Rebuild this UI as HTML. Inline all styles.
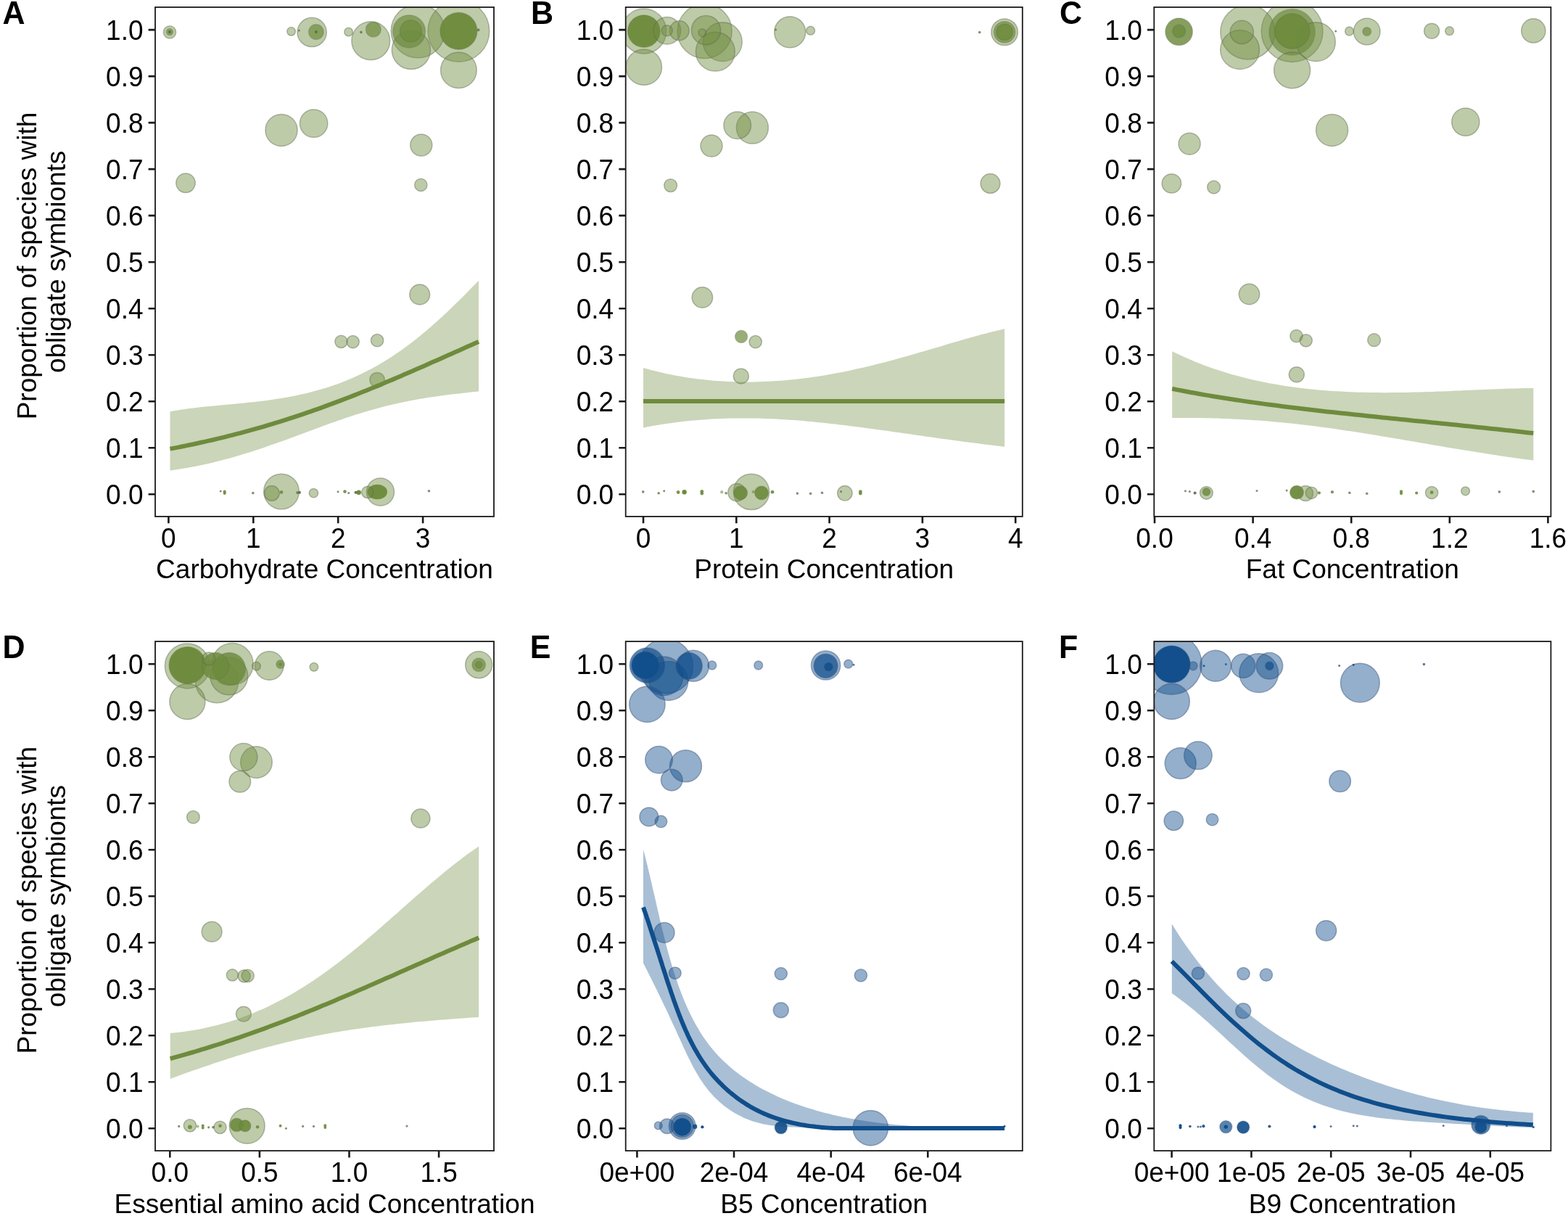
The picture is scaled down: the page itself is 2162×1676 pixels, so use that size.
<!DOCTYPE html>
<html lang="en"><head><meta charset="utf-8"><title>Figure</title>
<style>html,body{margin:0;padding:0;background:#fff}svg{display:block}text{font-family:"Liberation Sans",Arial,Helvetica,sans-serif;fill:#000}.t{font-size:37px}.l{font-size:43px;font-weight:bold}.g circle{fill:#6E8B3D;stroke:#5f6b50;stroke-width:1.5}.b circle{fill:#104E8B;stroke:#3a4f78;stroke-width:1.5}.fr{fill:none;stroke:#1a1a1a;stroke-width:1.8}.tk{stroke:#1a1a1a;stroke-width:2.6;fill:none}circle.d,ellipse.d,circle.k{stroke:none}.g circle.k{fill:#5a6b42}.b circle.k{fill:#2a4a78}.g ellipse{fill:#6E8B3D}.b ellipse{fill:#104E8B}</style></head>
<body>
<svg width="2162" height="1676" viewBox="0 0 2162 1676">
<rect width="2162" height="1676" fill="#fff"/>
<defs><clipPath id="cA"><rect x="214" y="9.9" width="467" height="702"/></clipPath><clipPath id="cB"><rect x="862.7" y="9.9" width="547.1" height="702"/></clipPath><clipPath id="cC"><rect x="1591.3" y="9.9" width="547.1" height="702"/></clipPath><clipPath id="cD"><rect x="214" y="884.1" width="467" height="702"/></clipPath><clipPath id="cE"><rect x="862.7" y="884.1" width="547.1" height="702"/></clipPath><clipPath id="cF"><rect x="1591.3" y="884.1" width="547.1" height="702"/></clipPath></defs>
<g id="panelA">
<g class="g" clip-path="url(#cA)"><circle cx="632.4" cy="42.8" r="42.4" fill-opacity="0.45" stroke-opacity="0.45"/><circle cx="576.2" cy="42.8" r="37" fill-opacity="0.45" stroke-opacity="0.45"/><circle cx="566.9" cy="68.8" r="26.6" fill-opacity="0.45" stroke-opacity="0.45"/><circle cx="511.3" cy="56.2" r="26.4" fill-opacity="0.45" stroke-opacity="0.45"/><circle cx="632.4" cy="42.8" r="25.5" fill-opacity="0.97" stroke-opacity="0.28"/><circle cx="632.4" cy="96.8" r="24.8" fill-opacity="0.45" stroke-opacity="0.45"/><circle cx="388" cy="677.5" r="24.3" fill-opacity="0.45" stroke-opacity="0.45"/><circle cx="564.1" cy="43.3" r="22.5" fill-opacity="0.70" stroke-opacity="0.28"/><circle cx="388" cy="179.4" r="22" fill-opacity="0.45" stroke-opacity="0.45"/><circle cx="430.1" cy="44.4" r="20.1" fill-opacity="0.45" stroke-opacity="0.45"/><circle cx="432.6" cy="170.1" r="19.2" fill-opacity="0.45" stroke-opacity="0.45"/><circle cx="524.5" cy="678" r="19" fill-opacity="0.45" stroke-opacity="0.45"/><circle cx="566.4" cy="42.8" r="15" fill-opacity="0.70" stroke-opacity="0.28"/><circle cx="580.8" cy="200" r="15" fill-opacity="0.45" stroke-opacity="0.45"/><circle cx="578.7" cy="406" r="13.9" fill-opacity="0.45" stroke-opacity="0.45"/><ellipse class="d" cx="520.2" cy="678" rx="13.8" ry="10.2" fill-opacity="0.97"/><circle cx="256" cy="252.3" r="13.2" fill-opacity="0.45" stroke-opacity="0.45"/><circle cx="435.9" cy="44" r="10.4" fill-opacity="0.70" stroke-opacity="0.28"/><circle cx="514.8" cy="40.7" r="10.4" fill-opacity="0.70" stroke-opacity="0.28"/><circle cx="374.8" cy="679.8" r="10.4" fill-opacity="0.45" stroke-opacity="0.45"/><circle cx="520.1" cy="523.6" r="10.2" fill-opacity="0.45" stroke-opacity="0.45"/><circle cx="234" cy="44.4" r="8.6" fill-opacity="0.45" stroke-opacity="0.45"/><circle cx="580.3" cy="254.9" r="8.6" fill-opacity="0.45" stroke-opacity="0.45"/><circle cx="470.4" cy="470.8" r="8.6" fill-opacity="0.45" stroke-opacity="0.45"/><circle cx="486.6" cy="471.2" r="8.6" fill-opacity="0.45" stroke-opacity="0.45"/><circle cx="520.1" cy="469.2" r="8.6" fill-opacity="0.45" stroke-opacity="0.45"/><circle cx="506.7" cy="678.4" r="8.1" fill-opacity="0.45" stroke-opacity="0.45"/><circle cx="432.4" cy="679.6" r="6.2" fill-opacity="0.45" stroke-opacity="0.45"/><circle cx="401.6" cy="43.3" r="5.8" fill-opacity="0.45" stroke-opacity="0.45"/><circle cx="480.6" cy="44" r="5.8" fill-opacity="0.45" stroke-opacity="0.45"/><circle cx="234" cy="44" r="4.6" fill-opacity="0.70" stroke-opacity="0.28"/><circle class="d" cx="494.7" cy="678.7" r="3.2" fill-opacity="1.00"/><circle class="d" cx="388" cy="678.4" r="2.3" fill-opacity="0.91"/><circle class="d" cx="475.5" cy="677.5" r="2.3" fill-opacity="0.91"/><circle class="d" cx="309.7" cy="677.7" r="2.1" fill-opacity="0.91"/><circle class="d" cx="309.7" cy="679.8" r="2.1" fill-opacity="0.91"/><circle class="k" cx="234" cy="44" r="2" fill-opacity="0.90"/><circle class="k" cx="435.9" cy="44" r="2" fill-opacity="0.90"/><circle class="k" cx="659.5" cy="41.2" r="2" fill-opacity="0.75"/><circle class="k" cx="410.2" cy="679.1" r="2" fill-opacity="0.75"/><circle class="k" cx="413" cy="678.7" r="2" fill-opacity="0.90"/><circle class="k" cx="490.5" cy="678.7" r="2" fill-opacity="0.90"/><circle class="k" cx="497.9" cy="44.4" r="1.8" fill-opacity="0.75"/><circle class="k" cx="348.8" cy="679.6" r="1.8" fill-opacity="0.75"/><circle class="k" cx="591.4" cy="676.8" r="1.8" fill-opacity="0.75"/><circle class="k" cx="466" cy="677.7" r="1.5" fill-opacity="0.75"/><circle class="k" cx="480.8" cy="679.6" r="1.5" fill-opacity="0.75"/><circle class="k" cx="412.3" cy="41.9" r="1.5" fill-opacity="0.75"/><circle class="k" cx="304.2" cy="677" r="1.5" fill-opacity="0.75"/></g>
<path d="M234.5 567.2 L239.9 566.2 L245.3 565.4 L250.7 564.5 L256 563.8 L261.4 563 L266.8 562.4 L272.2 561.7 L277.6 561.1 L283 560.5 L288.4 560 L293.7 559.5 L299.1 558.9 L304.5 558.4 L309.9 557.9 L315.3 557.4 L320.7 556.9 L326.1 556.4 L331.4 555.9 L336.8 555.4 L342.2 554.8 L347.6 554.3 L353 553.7 L358.4 553 L363.8 552.4 L369.2 551.7 L374.5 550.9 L379.9 550.1 L385.3 549.3 L390.7 548.4 L396.1 547.5 L401.5 546.5 L406.9 545.4 L412.2 544.3 L417.6 543.1 L423 541.9 L428.4 540.5 L433.8 539.1 L439.2 537.6 L444.6 536.1 L449.9 534.4 L455.3 532.7 L460.7 530.8 L466.1 528.9 L471.5 526.9 L476.9 524.8 L482.3 522.5 L487.6 520.2 L493 517.8 L498.4 515.2 L503.8 512.6 L509.2 509.8 L514.6 506.9 L520 503.9 L525.3 500.8 L530.7 497.5 L536.1 494.2 L541.5 490.7 L546.9 487.1 L552.3 483.4 L557.7 479.5 L563.1 475.6 L568.4 471.5 L573.8 467.3 L579.2 462.9 L584.6 458.5 L590 454 L595.4 449.3 L600.8 444.5 L606.1 439.7 L611.5 434.7 L616.9 429.7 L622.3 424.5 L627.7 419.3 L633.1 414 L638.5 408.7 L643.8 403.3 L649.2 397.8 L654.6 392.3 L660 386.8 L660 539.4 L654.6 540 L649.2 540.6 L643.8 541.2 L638.5 541.8 L633.1 542.4 L627.7 543 L622.3 543.6 L616.9 544.3 L611.5 545 L606.1 545.7 L600.8 546.5 L595.4 547.2 L590 548.1 L584.6 548.9 L579.2 549.8 L573.8 550.8 L568.4 551.8 L563.1 552.8 L557.7 553.9 L552.3 555 L546.9 556.2 L541.5 557.5 L536.1 558.7 L530.7 560.1 L525.3 561.5 L520 562.9 L514.6 564.4 L509.2 566 L503.8 567.5 L498.4 569.2 L493 570.8 L487.6 572.6 L482.3 574.3 L476.9 576.1 L471.5 577.9 L466.1 579.8 L460.7 581.7 L455.3 583.6 L449.9 585.5 L444.6 587.5 L439.2 589.5 L433.8 591.4 L428.4 593.4 L423 595.4 L417.6 597.4 L412.2 599.4 L406.9 601.4 L401.5 603.4 L396.1 605.4 L390.7 607.4 L385.3 609.3 L379.9 611.2 L374.5 613.1 L369.2 615 L363.8 616.9 L358.4 618.7 L353 620.5 L347.6 622.2 L342.2 623.9 L336.8 625.6 L331.4 627.2 L326.1 628.8 L320.7 630.4 L315.3 631.9 L309.9 633.3 L304.5 634.7 L299.1 636.1 L293.7 637.4 L288.4 638.7 L283 639.9 L277.6 641 L272.2 642.2 L266.8 643.2 L261.4 644.2 L256 645.2 L250.7 646.1 L245.3 647 L239.9 647.8 L234.5 648.6Z" fill="#6E8B3D" fill-opacity="0.36"/>
<path d="M234.5 618.6 L239.9 617.6 L245.3 616.6 L250.7 615.5 L256 614.4 L261.4 613.3 L266.8 612.2 L272.2 611 L277.6 609.8 L283 608.6 L288.4 607.4 L293.7 606.2 L299.1 604.9 L304.5 603.6 L309.9 602.3 L315.3 600.9 L320.7 599.6 L326.1 598.2 L331.4 596.8 L336.8 595.3 L342.2 593.9 L347.6 592.4 L353 590.9 L358.4 589.3 L363.8 587.8 L369.2 586.2 L374.5 584.6 L379.9 582.9 L385.3 581.3 L390.7 579.6 L396.1 577.9 L401.5 576.1 L406.9 574.4 L412.2 572.6 L417.6 570.8 L423 568.9 L428.4 567.1 L433.8 565.2 L439.2 563.3 L444.6 561.4 L449.9 559.4 L455.3 557.4 L460.7 555.4 L466.1 553.4 L471.5 551.4 L476.9 549.3 L482.3 547.2 L487.6 545.1 L493 543 L498.4 540.8 L503.8 538.7 L509.2 536.5 L514.6 534.3 L520 532.1 L525.3 529.9 L530.7 527.6 L536.1 525.3 L541.5 523.1 L546.9 520.8 L552.3 518.5 L557.7 516.1 L563.1 513.8 L568.4 511.5 L573.8 509.1 L579.2 506.8 L584.6 504.4 L590 502 L595.4 499.6 L600.8 497.3 L606.1 494.9 L611.5 492.5 L616.9 490.1 L622.3 487.7 L627.7 485.3 L633.1 482.9 L638.5 480.5 L643.8 478.1 L649.2 475.7 L654.6 473.3 L660 470.9" fill="none" stroke="#6E8B3D" stroke-width="6.0" stroke-linejoin="round"/>
<rect class="fr" x="214" y="9.9" width="467" height="702"/>
<path class="tk" d="M204.6 681.2H214M204.6 617.2H214M204.6 553.2H214M204.6 489.2H214M204.6 425.2H214M204.6 361.2H214M204.6 297.1H214M204.6 233.1H214M204.6 169.1H214M204.6 105.1H214M204.6 41.1H214M232.4 711.9V721.3M349.3 711.9V721.3M466.2 711.9V721.3M583.1 711.9V721.3"/>
<g class="t" text-anchor="end"><text transform="translate(197.5 694.6) scale(1 1.043)">0.0</text><text transform="translate(197.5 630.6) scale(1 1.043)">0.1</text><text transform="translate(197.5 566.6) scale(1 1.043)">0.2</text><text transform="translate(197.5 502.6) scale(1 1.043)">0.3</text><text transform="translate(197.5 438.6) scale(1 1.043)">0.4</text><text transform="translate(197.5 374.6) scale(1 1.043)">0.5</text><text transform="translate(197.5 310.5) scale(1 1.043)">0.6</text><text transform="translate(197.5 246.5) scale(1 1.043)">0.7</text><text transform="translate(197.5 182.5) scale(1 1.043)">0.8</text><text transform="translate(197.5 118.5) scale(1 1.043)">0.9</text><text transform="translate(197.5 54.5) scale(1 1.043)">1.0</text></g>
<g class="t" text-anchor="middle"><text transform="translate(232.4 755) scale(1 1.043)">0</text><text transform="translate(349.3 755) scale(1 1.043)">1</text><text transform="translate(466.2 755) scale(1 1.043)">2</text><text transform="translate(583.1 755) scale(1 1.043)">3</text><text x="447.5" y="797.3">Carbohydrate Concentration</text><text transform="translate(50.4 366.5) rotate(-90)">Proportion of species with</text><text transform="translate(89.7 360.9) rotate(-90)">obligate symbionts</text></g>
<text class="l" transform="translate(3.6 32.5) scale(1 1.043)">A</text>
</g>
<g id="panelB">
<g class="g" clip-path="url(#cB)"><circle cx="971.6" cy="43" r="37.6" fill-opacity="0.45" stroke-opacity="0.45"/><circle cx="887.8" cy="43" r="30.9" fill-opacity="0.45" stroke-opacity="0.45"/><circle cx="996.3" cy="57.7" r="26.9" fill-opacity="0.45" stroke-opacity="0.45"/><circle cx="986.3" cy="71.2" r="26.9" fill-opacity="0.45" stroke-opacity="0.45"/><circle cx="887.8" cy="92.6" r="24.7" fill-opacity="0.45" stroke-opacity="0.45"/><circle cx="1036" cy="677.9" r="24.7" fill-opacity="0.45" stroke-opacity="0.45"/><circle cx="887.8" cy="43" r="22.3" fill-opacity="0.97" stroke-opacity="0.28"/><circle cx="1037.4" cy="176.1" r="22" fill-opacity="0.45" stroke-opacity="0.45"/><circle cx="1089.2" cy="44.3" r="21.5" fill-opacity="0.45" stroke-opacity="0.45"/><circle cx="973.5" cy="41.6" r="20.1" fill-opacity="0.45" stroke-opacity="0.45"/><circle cx="919.8" cy="42.2" r="18.8" fill-opacity="0.45" stroke-opacity="0.45"/><circle cx="1016.7" cy="172.7" r="18.8" fill-opacity="0.45" stroke-opacity="0.45"/><circle cx="1385.1" cy="44.3" r="18.3" fill-opacity="0.45" stroke-opacity="0.45"/><circle cx="981" cy="201.1" r="15" fill-opacity="0.45" stroke-opacity="0.45"/><circle cx="1385.1" cy="44.3" r="14.8" fill-opacity="0.70" stroke-opacity="0.28"/><circle cx="968.4" cy="410" r="14.2" fill-opacity="0.45" stroke-opacity="0.45"/><circle cx="936.7" cy="42.2" r="13.4" fill-opacity="0.45" stroke-opacity="0.45"/><circle cx="1365.5" cy="252.9" r="13.4" fill-opacity="0.45" stroke-opacity="0.45"/><circle cx="1015.9" cy="678.7" r="12.1" fill-opacity="0.45" stroke-opacity="0.45"/><circle cx="1385.1" cy="44.3" r="11.3" fill-opacity="0.83" stroke-opacity="0.28"/><circle cx="1021.8" cy="518.4" r="10.5" fill-opacity="0.45" stroke-opacity="0.45"/><circle cx="1164.9" cy="679.8" r="10.2" fill-opacity="0.45" stroke-opacity="0.45"/><circle cx="1021.2" cy="679.3" r="9.4" fill-opacity="0.91" stroke-opacity="0.28"/><circle cx="1050" cy="679.3" r="9.4" fill-opacity="0.91" stroke-opacity="0.28"/><circle cx="924.6" cy="255.6" r="8.9" fill-opacity="0.45" stroke-opacity="0.45"/><circle cx="1022.1" cy="463.9" r="8.6" fill-opacity="0.70" stroke-opacity="0.28"/><circle cx="1041.7" cy="471.2" r="8.6" fill-opacity="0.45" stroke-opacity="0.45"/><circle cx="919.8" cy="42.2" r="7.5" fill-opacity="0.45" stroke-opacity="0.45"/><circle cx="1117.6" cy="42.2" r="5.9" fill-opacity="0.45" stroke-opacity="0.45"/><circle cx="968.4" cy="45.1" r="5.4" fill-opacity="0.45" stroke-opacity="0.45"/><circle class="d" cx="943.6" cy="678.2" r="3.2" fill-opacity="1.00"/><circle class="d" cx="935.1" cy="678.5" r="2.4" fill-opacity="0.91"/><circle class="d" cx="967.8" cy="677.4" r="2.4" fill-opacity="0.91"/><circle class="d" cx="967.8" cy="680.1" r="2.4" fill-opacity="0.91"/><circle class="d" cx="1065" cy="678.2" r="2.4" fill-opacity="0.91"/><circle class="d" cx="1186.4" cy="677.6" r="2.4" fill-opacity="0.91"/><circle class="d" cx="1186.4" cy="680.1" r="2.4" fill-opacity="0.91"/><circle class="d" cx="995.2" cy="678.2" r="2.1" fill-opacity="0.58"/><circle class="d" cx="1038.7" cy="677.9" r="2.1" fill-opacity="0.58"/><circle class="k" cx="1350.7" cy="44.6" r="1.8" fill-opacity="0.75"/><circle class="k" cx="886.7" cy="677.9" r="1.8" fill-opacity="0.75"/><circle class="k" cx="908.2" cy="679.8" r="1.8" fill-opacity="0.75"/><circle class="k" cx="1001.1" cy="679.8" r="1.8" fill-opacity="0.75"/><circle class="k" cx="1099.4" cy="680.1" r="1.8" fill-opacity="0.75"/><circle class="k" cx="1117.6" cy="680.3" r="1.8" fill-opacity="0.75"/><circle class="k" cx="1133.5" cy="679.3" r="1.8" fill-opacity="0.75"/><circle class="k" cx="915.7" cy="676.8" r="1.5" fill-opacity="0.75"/><circle class="k" cx="1159.5" cy="677.4" r="1.5" fill-opacity="0.75"/><circle class="k" cx="1069.6" cy="41.1" r="1.5" fill-opacity="0.75"/></g>
<path d="M887 507 L893.3 508.8 L899.6 510.5 L905.9 512 L912.2 513.5 L918.5 514.9 L924.8 516.2 L931.1 517.5 L937.4 518.6 L943.7 519.7 L950.1 520.7 L956.4 521.6 L962.7 522.4 L969 523.1 L975.3 523.8 L981.6 524.4 L987.9 524.9 L994.2 525.3 L1000.5 525.7 L1006.8 526 L1013.1 526.2 L1019.4 526.4 L1025.7 526.5 L1032 526.5 L1038.3 526.4 L1044.6 526.3 L1050.9 526.1 L1057.2 525.8 L1063.5 525.5 L1069.8 525.1 L1076.2 524.7 L1082.5 524.2 L1088.8 523.6 L1095.1 523 L1101.4 522.3 L1107.7 521.5 L1114 520.7 L1120.3 519.8 L1126.6 518.9 L1132.9 517.9 L1139.2 516.9 L1145.5 515.8 L1151.8 514.6 L1158.1 513.4 L1164.4 512.2 L1170.7 510.9 L1177 509.5 L1183.3 508.1 L1189.6 506.7 L1195.9 505.2 L1202.3 503.7 L1208.6 502.1 L1214.9 500.5 L1221.2 498.9 L1227.5 497.2 L1233.8 495.5 L1240.1 493.8 L1246.4 492 L1252.7 490.2 L1259 488.4 L1265.3 486.6 L1271.6 484.8 L1277.9 482.9 L1284.2 481.1 L1290.5 479.2 L1296.8 477.4 L1303.1 475.5 L1309.4 473.6 L1315.7 471.8 L1322 469.9 L1328.4 468.1 L1334.7 466.3 L1341 464.5 L1347.3 462.8 L1353.6 461.1 L1359.9 459.4 L1366.2 457.8 L1372.5 456.2 L1378.8 454.7 L1385.1 453.2 L1385.1 615.7 L1378.8 615 L1372.5 614.3 L1366.2 613.5 L1359.9 612.7 L1353.6 611.9 L1347.3 611.1 L1341 610.3 L1334.7 609.5 L1328.4 608.7 L1322 607.8 L1315.7 607 L1309.4 606.1 L1303.1 605.2 L1296.8 604.4 L1290.5 603.5 L1284.2 602.6 L1277.9 601.7 L1271.6 600.8 L1265.3 599.9 L1259 599 L1252.7 598.1 L1246.4 597.2 L1240.1 596.3 L1233.8 595.4 L1227.5 594.5 L1221.2 593.6 L1214.9 592.8 L1208.6 591.9 L1202.3 591 L1195.9 590.2 L1189.6 589.3 L1183.3 588.5 L1177 587.7 L1170.7 586.9 L1164.4 586.1 L1158.1 585.4 L1151.8 584.6 L1145.5 583.9 L1139.2 583.2 L1132.9 582.5 L1126.6 581.9 L1120.3 581.3 L1114 580.7 L1107.7 580.1 L1101.4 579.6 L1095.1 579.1 L1088.8 578.7 L1082.5 578.3 L1076.2 577.9 L1069.8 577.5 L1063.5 577.2 L1057.2 577 L1050.9 576.8 L1044.6 576.6 L1038.3 576.5 L1032 576.4 L1025.7 576.4 L1019.4 576.4 L1013.1 576.5 L1006.8 576.6 L1000.5 576.8 L994.2 577 L987.9 577.3 L981.6 577.6 L975.3 578 L969 578.5 L962.7 579 L956.4 579.5 L950.1 580.1 L943.7 580.8 L937.4 581.6 L931.1 582.3 L924.8 583.2 L918.5 584.1 L912.2 585 L905.9 586 L899.6 587.1 L893.3 588.2 L887 589.4Z" fill="#6E8B3D" fill-opacity="0.36"/>
<path d="M887 553.1 L893.3 553.1 L899.6 553.1 L905.9 553.1 L912.2 553.1 L918.5 553.1 L924.8 553.1 L931.1 553.1 L937.4 553.1 L943.7 553.1 L950.1 553.1 L956.4 553.1 L962.7 553.1 L969 553.1 L975.3 553.1 L981.6 553.1 L987.9 553.1 L994.2 553.1 L1000.5 553.1 L1006.8 553.1 L1013.1 553.1 L1019.4 553.1 L1025.7 553.1 L1032 553.1 L1038.3 553.1 L1044.6 553.1 L1050.9 553.1 L1057.2 553.1 L1063.5 553.1 L1069.8 553.1 L1076.2 553.1 L1082.5 553.1 L1088.8 553.1 L1095.1 553.1 L1101.4 553.1 L1107.7 553.1 L1114 553.1 L1120.3 553.1 L1126.6 553.1 L1132.9 553.1 L1139.2 553.1 L1145.5 553.1 L1151.8 553.1 L1158.1 553.1 L1164.4 553.1 L1170.7 553.1 L1177 553.1 L1183.3 553.1 L1189.6 553.1 L1195.9 553.1 L1202.3 553.1 L1208.6 553.1 L1214.9 553.1 L1221.2 553.1 L1227.5 553.1 L1233.8 553.1 L1240.1 553.1 L1246.4 553.1 L1252.7 553.1 L1259 553.1 L1265.3 553.1 L1271.6 553.1 L1277.9 553.1 L1284.2 553.1 L1290.5 553.1 L1296.8 553.1 L1303.1 553.1 L1309.4 553.1 L1315.7 553.1 L1322 553.1 L1328.4 553.1 L1334.7 553.1 L1341 553.1 L1347.3 553.1 L1353.6 553.1 L1359.9 553.1 L1366.2 553.1 L1372.5 553.1 L1378.8 553.1 L1385.1 553.1" fill="none" stroke="#6E8B3D" stroke-width="6.0" stroke-linejoin="round"/>
<rect class="fr" x="862.7" y="9.9" width="547.1" height="702"/>
<path class="tk" d="M853.3 681.2H862.7M853.3 617.2H862.7M853.3 553.2H862.7M853.3 489.2H862.7M853.3 425.2H862.7M853.3 361.2H862.7M853.3 297.1H862.7M853.3 233.1H862.7M853.3 169.1H862.7M853.3 105.1H862.7M853.3 41.1H862.7M887 711.9V721.3M1015.3 711.9V721.3M1143.6 711.9V721.3M1271.9 711.9V721.3M1400.2 711.9V721.3"/>
<g class="t" text-anchor="end"><text transform="translate(846.2 694.6) scale(1 1.043)">0.0</text><text transform="translate(846.2 630.6) scale(1 1.043)">0.1</text><text transform="translate(846.2 566.6) scale(1 1.043)">0.2</text><text transform="translate(846.2 502.6) scale(1 1.043)">0.3</text><text transform="translate(846.2 438.6) scale(1 1.043)">0.4</text><text transform="translate(846.2 374.6) scale(1 1.043)">0.5</text><text transform="translate(846.2 310.5) scale(1 1.043)">0.6</text><text transform="translate(846.2 246.5) scale(1 1.043)">0.7</text><text transform="translate(846.2 182.5) scale(1 1.043)">0.8</text><text transform="translate(846.2 118.5) scale(1 1.043)">0.9</text><text transform="translate(846.2 54.5) scale(1 1.043)">1.0</text></g>
<g class="t" text-anchor="middle"><text transform="translate(887 755) scale(1 1.043)">0</text><text transform="translate(1015.3 755) scale(1 1.043)">1</text><text transform="translate(1143.6 755) scale(1 1.043)">2</text><text transform="translate(1271.9 755) scale(1 1.043)">3</text><text transform="translate(1400.2 755) scale(1 1.043)">4</text><text x="1136.2" y="797.3">Protein Concentration</text></g>
<text class="l" transform="translate(732.1 32.5) scale(1 1.043)">B</text>
</g>
<g id="panelC">
<g class="g" clip-path="url(#cC)"><circle cx="1781.6" cy="43" r="42.4" fill-opacity="0.45" stroke-opacity="0.45"/><circle cx="1720.4" cy="44.3" r="37.6" fill-opacity="0.45" stroke-opacity="0.45"/><circle cx="1781.6" cy="44.3" r="31.7" fill-opacity="0.70" stroke-opacity="0.28"/><circle cx="1709.6" cy="68.5" r="26.9" fill-opacity="0.45" stroke-opacity="0.45"/><circle cx="1814.4" cy="57.7" r="26.9" fill-opacity="0.45" stroke-opacity="0.45"/><circle cx="1781.6" cy="96.7" r="25" fill-opacity="0.45" stroke-opacity="0.45"/><circle cx="1781.6" cy="43" r="24.2" fill-opacity="0.95" stroke-opacity="0.28"/><circle cx="1836.6" cy="179.4" r="22" fill-opacity="0.45" stroke-opacity="0.45"/><circle cx="2020.8" cy="168.1" r="19.1" fill-opacity="0.45" stroke-opacity="0.45"/><circle cx="1625.6" cy="43.8" r="18.8" fill-opacity="0.83" stroke-opacity="0.28"/><circle cx="1884.7" cy="43.5" r="18.3" fill-opacity="0.45" stroke-opacity="0.45"/><circle cx="2114.3" cy="42.4" r="16.6" fill-opacity="0.45" stroke-opacity="0.45"/><circle cx="1712.3" cy="44.3" r="16.1" fill-opacity="0.45" stroke-opacity="0.45"/><circle cx="1640.1" cy="198.2" r="15" fill-opacity="0.45" stroke-opacity="0.45"/><circle cx="1722.5" cy="405.5" r="14.2" fill-opacity="0.45" stroke-opacity="0.45"/><circle cx="1615.4" cy="252.9" r="13.2" fill-opacity="0.45" stroke-opacity="0.45"/><circle cx="1974.1" cy="42.7" r="10.5" fill-opacity="0.45" stroke-opacity="0.45"/><circle cx="1787.8" cy="516.3" r="10.5" fill-opacity="0.45" stroke-opacity="0.45"/><circle cx="1800.1" cy="680.1" r="10.5" fill-opacity="0.45" stroke-opacity="0.45"/><circle cx="1788" cy="678.7" r="9.4" fill-opacity="0.95" stroke-opacity="0.28"/><circle cx="1625.6" cy="43" r="8.9" fill-opacity="0.83" stroke-opacity="0.28"/><circle cx="1673.6" cy="258" r="8.9" fill-opacity="0.45" stroke-opacity="0.45"/><circle cx="1894.6" cy="468.7" r="8.9" fill-opacity="0.45" stroke-opacity="0.45"/><circle cx="1663.4" cy="679.3" r="8.9" fill-opacity="0.45" stroke-opacity="0.45"/><circle cx="1787.5" cy="463.1" r="8.6" fill-opacity="0.45" stroke-opacity="0.45"/><circle cx="1800.7" cy="469.3" r="8.6" fill-opacity="0.45" stroke-opacity="0.45"/><circle cx="1974.1" cy="679" r="8.6" fill-opacity="0.45" stroke-opacity="0.45"/><circle cx="1808.4" cy="679.3" r="8.1" fill-opacity="0.45" stroke-opacity="0.45"/><circle cx="1860.5" cy="43" r="5.9" fill-opacity="0.45" stroke-opacity="0.45"/><circle cx="1884.7" cy="43.5" r="5.9" fill-opacity="0.70" stroke-opacity="0.28"/><circle cx="1998.6" cy="42.7" r="5.9" fill-opacity="0.45" stroke-opacity="0.45"/><circle cx="2020.6" cy="676.8" r="5.9" fill-opacity="0.45" stroke-opacity="0.45"/><circle cx="1663.4" cy="677.9" r="5.4" fill-opacity="0.83" stroke-opacity="0.28"/><circle class="d" cx="1974.1" cy="678.7" r="2.4" fill-opacity="0.91"/><circle class="d" cx="1818.9" cy="679.3" r="2.1" fill-opacity="0.91"/><circle class="d" cx="1932" cy="677.4" r="2.1" fill-opacity="0.91"/><circle class="d" cx="1932" cy="680.1" r="2.1" fill-opacity="0.91"/><circle class="d" cx="1953.2" cy="679.5" r="2.1" fill-opacity="0.91"/><circle class="k" cx="1647.6" cy="679.5" r="2.1" fill-opacity="0.90"/><circle class="k" cx="1836.9" cy="678.2" r="2.1" fill-opacity="0.75"/><circle class="k" cx="1860.8" cy="679.3" r="1.8" fill-opacity="0.75"/><circle class="k" cx="1884.7" cy="680.3" r="1.8" fill-opacity="0.75"/><circle class="k" cx="2067.3" cy="677.9" r="1.8" fill-opacity="0.75"/><circle class="k" cx="2114.3" cy="677.4" r="1.8" fill-opacity="0.75"/><circle class="k" cx="1841.7" cy="43" r="1.5" fill-opacity="0.75"/><circle class="k" cx="1634.4" cy="676.8" r="1.5" fill-opacity="0.75"/><circle class="k" cx="1640.4" cy="677.4" r="1.5" fill-opacity="0.75"/><circle class="k" cx="1733" cy="676.6" r="1.5" fill-opacity="0.75"/><circle class="k" cx="1774.1" cy="676" r="1.5" fill-opacity="0.75"/></g>
<path d="M1616.2 484.2 L1622.5 487.3 L1628.8 490.2 L1635.1 493.1 L1641.4 495.8 L1647.7 498.4 L1654 500.9 L1660.3 503.4 L1666.6 505.7 L1672.9 507.9 L1679.3 510 L1685.6 512 L1691.9 514 L1698.2 515.9 L1704.5 517.6 L1710.8 519.3 L1717.1 520.9 L1723.4 522.5 L1729.7 523.9 L1736 525.3 L1742.3 526.6 L1748.6 527.9 L1754.9 529 L1761.2 530.1 L1767.5 531.2 L1773.8 532.2 L1780.1 533.1 L1786.4 533.9 L1792.7 534.7 L1799 535.5 L1805.4 536.2 L1811.7 536.8 L1818 537.4 L1824.3 537.9 L1830.6 538.4 L1836.9 538.9 L1843.2 539.3 L1849.5 539.6 L1855.8 540 L1862.1 540.2 L1868.4 540.5 L1874.7 540.7 L1881 540.8 L1887.3 541 L1893.6 541.1 L1899.9 541.1 L1906.2 541.2 L1912.5 541.2 L1918.8 541.1 L1925.1 541.1 L1931.5 541 L1937.8 540.9 L1944.1 540.8 L1950.4 540.6 L1956.7 540.5 L1963 540.3 L1969.3 540.1 L1975.6 539.9 L1981.9 539.6 L1988.2 539.4 L1994.5 539.2 L2000.8 538.9 L2007.1 538.6 L2013.4 538.4 L2019.7 538.1 L2026 537.8 L2032.3 537.5 L2038.6 537.3 L2044.9 537 L2051.2 536.7 L2057.6 536.5 L2063.9 536.2 L2070.2 536 L2076.5 535.8 L2082.8 535.6 L2089.1 535.4 L2095.4 535.2 L2101.7 535.1 L2108 535 L2114.3 534.9 L2114.3 634.6 L2108 633.7 L2101.7 632.9 L2095.4 632 L2089.1 631.2 L2082.8 630.3 L2076.5 629.4 L2070.2 628.4 L2063.9 627.5 L2057.6 626.6 L2051.2 625.6 L2044.9 624.6 L2038.6 623.6 L2032.3 622.6 L2026 621.6 L2019.7 620.6 L2013.4 619.5 L2007.1 618.5 L2000.8 617.4 L1994.5 616.4 L1988.2 615.3 L1981.9 614.2 L1975.6 613.2 L1969.3 612.1 L1963 611 L1956.7 609.9 L1950.4 608.8 L1944.1 607.8 L1937.8 606.7 L1931.5 605.6 L1925.1 604.5 L1918.8 603.5 L1912.5 602.4 L1906.2 601.4 L1899.9 600.3 L1893.6 599.3 L1887.3 598.3 L1881 597.3 L1874.7 596.3 L1868.4 595.3 L1862.1 594.3 L1855.8 593.4 L1849.5 592.4 L1843.2 591.5 L1836.9 590.6 L1830.6 589.8 L1824.3 588.9 L1818 588.1 L1811.7 587.3 L1805.4 586.5 L1799 585.7 L1792.7 585 L1786.4 584.3 L1780.1 583.6 L1773.8 583 L1767.5 582.3 L1761.2 581.8 L1754.9 581.2 L1748.6 580.6 L1742.3 580.1 L1736 579.6 L1729.7 579.2 L1723.4 578.8 L1717.1 578.4 L1710.8 578 L1704.5 577.7 L1698.2 577.4 L1691.9 577.1 L1685.6 576.9 L1679.3 576.6 L1672.9 576.5 L1666.6 576.3 L1660.3 576.2 L1654 576.1 L1647.7 576 L1641.4 575.9 L1635.1 575.9 L1628.8 575.9 L1622.5 576 L1616.2 576Z" fill="#6E8B3D" fill-opacity="0.36"/>
<path d="M1616.2 535.8 L1622.5 537.1 L1628.8 538.3 L1635.1 539.5 L1641.4 540.7 L1647.7 541.8 L1654 543 L1660.3 544.1 L1666.6 545.1 L1672.9 546.2 L1679.3 547.2 L1685.6 548.3 L1691.9 549.3 L1698.2 550.2 L1704.5 551.2 L1710.8 552.1 L1717.1 553.1 L1723.4 554 L1729.7 554.9 L1736 555.7 L1742.3 556.6 L1748.6 557.4 L1754.9 558.3 L1761.2 559.1 L1767.5 559.9 L1773.8 560.7 L1780.1 561.5 L1786.4 562.2 L1792.7 563 L1799 563.7 L1805.4 564.5 L1811.7 565.2 L1818 565.9 L1824.3 566.7 L1830.6 567.4 L1836.9 568.1 L1843.2 568.8 L1849.5 569.4 L1855.8 570.1 L1862.1 570.8 L1868.4 571.5 L1874.7 572.1 L1881 572.8 L1887.3 573.4 L1893.6 574.1 L1899.9 574.7 L1906.2 575.4 L1912.5 576 L1918.8 576.7 L1925.1 577.3 L1931.5 578 L1937.8 578.6 L1944.1 579.2 L1950.4 579.9 L1956.7 580.5 L1963 581.1 L1969.3 581.8 L1975.6 582.4 L1981.9 583 L1988.2 583.7 L1994.5 584.3 L2000.8 585 L2007.1 585.6 L2013.4 586.3 L2019.7 586.9 L2026 587.6 L2032.3 588.2 L2038.6 588.9 L2044.9 589.5 L2051.2 590.2 L2057.6 590.9 L2063.9 591.5 L2070.2 592.2 L2076.5 592.9 L2082.8 593.6 L2089.1 594.3 L2095.4 595 L2101.7 595.7 L2108 596.4 L2114.3 597.1" fill="none" stroke="#6E8B3D" stroke-width="6.0" stroke-linejoin="round"/>
<rect class="fr" x="1591.3" y="9.9" width="547.1" height="702"/>
<path class="tk" d="M1581.9 681.2H1591.3M1581.9 617.2H1591.3M1581.9 553.2H1591.3M1581.9 489.2H1591.3M1581.9 425.2H1591.3M1581.9 361.2H1591.3M1581.9 297.1H1591.3M1581.9 233.1H1591.3M1581.9 169.1H1591.3M1581.9 105.1H1591.3M1581.9 41.1H1591.3M1592 711.9V721.3M1727.6 711.9V721.3M1863.2 711.9V721.3M1998.8 711.9V721.3M2134.4 711.9V721.3"/>
<g class="t" text-anchor="end"><text transform="translate(1574.8 694.6) scale(1 1.043)">0.0</text><text transform="translate(1574.8 630.6) scale(1 1.043)">0.1</text><text transform="translate(1574.8 566.6) scale(1 1.043)">0.2</text><text transform="translate(1574.8 502.6) scale(1 1.043)">0.3</text><text transform="translate(1574.8 438.6) scale(1 1.043)">0.4</text><text transform="translate(1574.8 374.6) scale(1 1.043)">0.5</text><text transform="translate(1574.8 310.5) scale(1 1.043)">0.6</text><text transform="translate(1574.8 246.5) scale(1 1.043)">0.7</text><text transform="translate(1574.8 182.5) scale(1 1.043)">0.8</text><text transform="translate(1574.8 118.5) scale(1 1.043)">0.9</text><text transform="translate(1574.8 54.5) scale(1 1.043)">1.0</text></g>
<g class="t" text-anchor="middle"><text transform="translate(1592 755) scale(1 1.043)">0.0</text><text transform="translate(1727.6 755) scale(1 1.043)">0.4</text><text transform="translate(1863.2 755) scale(1 1.043)">0.8</text><text transform="translate(1998.8 755) scale(1 1.043)">1.2</text><text transform="translate(2134.4 755) scale(1 1.043)">1.6</text><text x="1864.8" y="797.3">Fat Concentration</text></g>
<text class="l" transform="translate(1461 32.5) scale(1 1.043)">C</text>
</g>
<g id="panelD">
<g class="g" clip-path="url(#cD)"><circle cx="258.4" cy="917.9" r="31" fill-opacity="0.45" stroke-opacity="0.45"/><circle cx="299.1" cy="939.2" r="29.6" fill-opacity="0.45" stroke-opacity="0.45"/><circle cx="320.4" cy="915.2" r="28.7" fill-opacity="0.45" stroke-opacity="0.45"/><circle cx="315.8" cy="931.8" r="25.9" fill-opacity="0.45" stroke-opacity="0.45"/><circle cx="258.4" cy="917" r="25.4" fill-opacity="0.99" stroke-opacity="0.28"/><circle cx="258.4" cy="967" r="24.5" fill-opacity="0.45" stroke-opacity="0.45"/><circle cx="340.7" cy="1551.8" r="24.4" fill-opacity="0.45" stroke-opacity="0.45"/><circle cx="316" cy="922" r="22.5" fill-opacity="0.83" stroke-opacity="0.28"/><circle cx="353.5" cy="1050.6" r="21.8" fill-opacity="0.45" stroke-opacity="0.45"/><circle cx="371.3" cy="917.5" r="19.7" fill-opacity="0.45" stroke-opacity="0.45"/><circle cx="335.9" cy="1043.6" r="19" fill-opacity="0.45" stroke-opacity="0.45"/><circle cx="660.2" cy="916.3" r="18.5" fill-opacity="0.45" stroke-opacity="0.45"/><circle cx="297" cy="918" r="18.5" fill-opacity="0.83" stroke-opacity="0.28"/><circle cx="330.8" cy="1077.2" r="14.8" fill-opacity="0.45" stroke-opacity="0.45"/><circle cx="292.1" cy="1284.2" r="13.9" fill-opacity="0.45" stroke-opacity="0.45"/><circle cx="579.9" cy="1128.1" r="13" fill-opacity="0.45" stroke-opacity="0.45"/><circle cx="335.9" cy="1397.6" r="10.4" fill-opacity="0.45" stroke-opacity="0.45"/><circle cx="660.2" cy="916.3" r="9.3" fill-opacity="0.70" stroke-opacity="0.28"/><circle cx="326.4" cy="1550.4" r="9.2" fill-opacity="0.91" stroke-opacity="0.28"/><circle cx="288" cy="908" r="9" fill-opacity="0.45" stroke-opacity="0.45"/><circle cx="266.4" cy="1126.2" r="8.8" fill-opacity="0.45" stroke-opacity="0.45"/><circle cx="261.9" cy="1551.3" r="8.6" fill-opacity="0.45" stroke-opacity="0.45"/><circle cx="303.5" cy="1553.8" r="8.6" fill-opacity="0.45" stroke-opacity="0.45"/><circle cx="336.6" cy="1345.3" r="8.6" fill-opacity="0.45" stroke-opacity="0.45"/><circle cx="341.7" cy="1344.8" r="8.6" fill-opacity="0.45" stroke-opacity="0.45"/><circle cx="320.4" cy="1343.9" r="8.1" fill-opacity="0.45" stroke-opacity="0.45"/><circle cx="337.9" cy="1551.8" r="8" fill-opacity="0.91" stroke-opacity="0.28"/><circle cx="353.5" cy="918.1" r="5.8" fill-opacity="0.45" stroke-opacity="0.45"/><circle cx="386.6" cy="915.6" r="5.8" fill-opacity="0.70" stroke-opacity="0.28"/><circle cx="432.9" cy="919.3" r="5.8" fill-opacity="0.45" stroke-opacity="0.45"/><circle cx="660.2" cy="916.3" r="4.6" fill-opacity="0.70" stroke-opacity="0.28"/><circle class="d" cx="261.9" cy="1553.3" r="2.9" fill-opacity="0.91"/><circle class="d" cx="386.6" cy="915.6" r="2.3" fill-opacity="0.91"/><circle class="d" cx="303.5" cy="1551.8" r="2.3" fill-opacity="0.91"/><circle class="d" cx="355.1" cy="1553.3" r="2.3" fill-opacity="0.91"/><circle class="d" cx="272.5" cy="1552.4" r="2" fill-opacity="0.58"/><circle class="d" cx="279.7" cy="1551.6" r="2" fill-opacity="0.91"/><circle class="d" cx="279.7" cy="1554.4" r="2" fill-opacity="0.91"/><circle class="d" cx="386.6" cy="1551.8" r="2" fill-opacity="0.91"/><circle class="d" cx="448.3" cy="1551.3" r="2" fill-opacity="0.91"/><circle class="d" cx="448.3" cy="1554.1" r="2" fill-opacity="0.91"/><circle class="k" cx="294" cy="1553.6" r="1.9" fill-opacity="0.75"/><circle class="k" cx="246.7" cy="1552.4" r="1.6" fill-opacity="0.75"/><circle class="k" cx="287.7" cy="1553.8" r="1.6" fill-opacity="0.75"/><circle class="k" cx="417.6" cy="1552.4" r="1.6" fill-opacity="0.75"/><circle class="k" cx="432.5" cy="1552.4" r="1.6" fill-opacity="0.75"/><circle class="k" cx="561" cy="1552.1" r="1.6" fill-opacity="0.75"/><circle class="k" cx="394.4" cy="1555.3" r="1.5" fill-opacity="0.75"/></g>
<path d="M234.7 1424 L240.1 1423.5 L245.5 1422.9 L250.9 1422.3 L256.2 1421.6 L261.6 1420.8 L267 1419.9 L272.4 1418.9 L277.8 1417.9 L283.2 1416.8 L288.6 1415.6 L293.9 1414.3 L299.3 1412.9 L304.7 1411.5 L310.1 1410 L315.5 1408.4 L320.9 1406.7 L326.3 1404.9 L331.6 1403 L337 1401 L342.4 1399 L347.8 1396.9 L353.2 1394.6 L358.6 1392.3 L364 1389.9 L369.4 1387.4 L374.7 1384.8 L380.1 1382.1 L385.5 1379.3 L390.9 1376.5 L396.3 1373.5 L401.7 1370.5 L407.1 1367.3 L412.4 1364.1 L417.8 1360.7 L423.2 1357.3 L428.6 1353.8 L434 1350.2 L439.4 1346.5 L444.8 1342.8 L450.1 1338.9 L455.5 1335 L460.9 1331 L466.3 1326.9 L471.7 1322.7 L477.1 1318.5 L482.5 1314.2 L487.8 1309.8 L493.2 1305.4 L498.6 1300.9 L504 1296.4 L509.4 1291.8 L514.8 1287.2 L520.2 1282.6 L525.5 1277.9 L530.9 1273.1 L536.3 1268.4 L541.7 1263.6 L547.1 1258.9 L552.5 1254.1 L557.9 1249.3 L563.3 1244.6 L568.6 1239.8 L574 1235.1 L579.4 1230.4 L584.8 1225.7 L590.2 1221 L595.6 1216.4 L601 1211.9 L606.3 1207.4 L611.7 1202.9 L617.1 1198.5 L622.5 1194.2 L627.9 1190 L633.3 1185.9 L638.7 1181.8 L644 1177.8 L649.4 1173.9 L654.8 1170.2 L660.2 1166.5 L660.2 1401.8 L654.8 1402.2 L649.4 1402.6 L644 1403 L638.7 1403.4 L633.3 1403.8 L627.9 1404.2 L622.5 1404.6 L617.1 1405 L611.7 1405.4 L606.3 1405.8 L601 1406.3 L595.6 1406.7 L590.2 1407.2 L584.8 1407.7 L579.4 1408.1 L574 1408.6 L568.6 1409.1 L563.3 1409.7 L557.9 1410.2 L552.5 1410.7 L547.1 1411.3 L541.7 1411.9 L536.3 1412.5 L530.9 1413.1 L525.5 1413.7 L520.2 1414.4 L514.8 1415.1 L509.4 1415.8 L504 1416.5 L498.6 1417.2 L493.2 1418 L487.8 1418.8 L482.5 1419.6 L477.1 1420.4 L471.7 1421.3 L466.3 1422.2 L460.9 1423.1 L455.5 1424 L450.1 1425 L444.8 1426 L439.4 1427 L434 1428.1 L428.6 1429.2 L423.2 1430.3 L417.8 1431.4 L412.4 1432.6 L407.1 1433.8 L401.7 1435 L396.3 1436.3 L390.9 1437.6 L385.5 1438.9 L380.1 1440.3 L374.7 1441.7 L369.4 1443.1 L364 1444.6 L358.6 1446 L353.2 1447.5 L347.8 1449.1 L342.4 1450.7 L337 1452.3 L331.6 1453.9 L326.3 1455.6 L320.9 1457.2 L315.5 1459 L310.1 1460.7 L304.7 1462.4 L299.3 1464.2 L293.9 1466 L288.6 1467.9 L283.2 1469.7 L277.8 1471.6 L272.4 1473.4 L267 1475.3 L261.6 1477.2 L256.2 1479.1 L250.9 1481.1 L245.5 1483 L240.1 1484.9 L234.7 1486.9Z" fill="#6E8B3D" fill-opacity="0.36"/>
<path d="M234.7 1459.1 L240.1 1457.7 L245.5 1456.2 L250.9 1454.6 L256.2 1453.1 L261.6 1451.5 L267 1450 L272.4 1448.3 L277.8 1446.7 L283.2 1445.1 L288.6 1443.4 L293.9 1441.7 L299.3 1440 L304.7 1438.3 L310.1 1436.5 L315.5 1434.7 L320.9 1432.9 L326.3 1431.1 L331.6 1429.3 L337 1427.4 L342.4 1425.5 L347.8 1423.6 L353.2 1421.7 L358.6 1419.7 L364 1417.8 L369.4 1415.8 L374.7 1413.8 L380.1 1411.8 L385.5 1409.7 L390.9 1407.7 L396.3 1405.6 L401.7 1403.5 L407.1 1401.4 L412.4 1399.2 L417.8 1397.1 L423.2 1394.9 L428.6 1392.8 L434 1390.6 L439.4 1388.4 L444.8 1386.1 L450.1 1383.9 L455.5 1381.7 L460.9 1379.4 L466.3 1377.1 L471.7 1374.8 L477.1 1372.5 L482.5 1370.2 L487.8 1367.9 L493.2 1365.6 L498.6 1363.3 L504 1360.9 L509.4 1358.6 L514.8 1356.2 L520.2 1353.8 L525.5 1351.5 L530.9 1349.1 L536.3 1346.7 L541.7 1344.4 L547.1 1342 L552.5 1339.6 L557.9 1337.2 L563.3 1334.8 L568.6 1332.4 L574 1330 L579.4 1327.7 L584.8 1325.3 L590.2 1322.9 L595.6 1320.5 L601 1318.1 L606.3 1315.8 L611.7 1313.4 L617.1 1311.1 L622.5 1308.7 L627.9 1306.4 L633.3 1304.1 L638.7 1301.7 L644 1299.4 L649.4 1297.1 L654.8 1294.9 L660.2 1292.6" fill="none" stroke="#6E8B3D" stroke-width="6.0" stroke-linejoin="round"/>
<rect class="fr" x="214" y="884.1" width="467" height="702"/>
<path class="tk" d="M204.6 1555.3H214M204.6 1491.3H214M204.6 1427.3H214M204.6 1363.3H214M204.6 1299.3H214M204.6 1235.2H214M204.6 1171.2H214M204.6 1107.2H214M204.6 1043.2H214M204.6 979.2H214M204.6 915.2H214M234.3 1586.1V1595.5M357.9 1586.1V1595.5M481.5 1586.1V1595.5M605.1 1586.1V1595.5"/>
<g class="t" text-anchor="end"><text transform="translate(197.5 1568.7) scale(1 1.043)">0.0</text><text transform="translate(197.5 1504.7) scale(1 1.043)">0.1</text><text transform="translate(197.5 1440.7) scale(1 1.043)">0.2</text><text transform="translate(197.5 1376.7) scale(1 1.043)">0.3</text><text transform="translate(197.5 1312.7) scale(1 1.043)">0.4</text><text transform="translate(197.5 1248.7) scale(1 1.043)">0.5</text><text transform="translate(197.5 1184.6) scale(1 1.043)">0.6</text><text transform="translate(197.5 1120.6) scale(1 1.043)">0.7</text><text transform="translate(197.5 1056.6) scale(1 1.043)">0.8</text><text transform="translate(197.5 992.6) scale(1 1.043)">0.9</text><text transform="translate(197.5 928.6) scale(1 1.043)">1.0</text></g>
<g class="t" text-anchor="middle"><text transform="translate(234.3 1629.2) scale(1 1.043)">0.0</text><text transform="translate(357.9 1629.2) scale(1 1.043)">0.5</text><text transform="translate(481.5 1629.2) scale(1 1.043)">1.0</text><text transform="translate(605.1 1629.2) scale(1 1.043)">1.5</text><text x="447.5" y="1671.5">Essential amino acid Concentration</text><text transform="translate(50.4 1240.7) rotate(-90)">Proportion of species with</text><text transform="translate(89.7 1235.1) rotate(-90)">obligate symbionts</text></g>
<text class="l" transform="translate(3.6 906.6) scale(1 1.043)">D</text>
</g>
<g id="panelE">
<g class="b" clip-path="url(#cE)"><circle cx="917.9" cy="918.3" r="37.6" fill-opacity="0.45" stroke-opacity="0.45"/><circle cx="915.2" cy="931.8" r="26.9" fill-opacity="0.45" stroke-opacity="0.45"/><circle cx="921.9" cy="938.5" r="26.9" fill-opacity="0.45" stroke-opacity="0.45"/><circle cx="892.4" cy="970.7" r="24.7" fill-opacity="0.45" stroke-opacity="0.45"/><circle cx="892.4" cy="917" r="24.2" fill-opacity="0.70" stroke-opacity="0.28"/><circle cx="1200.4" cy="1554.7" r="24.2" fill-opacity="0.45" stroke-opacity="0.45"/><circle cx="945.5" cy="1055.8" r="22" fill-opacity="0.45" stroke-opacity="0.45"/><circle cx="956" cy="917.8" r="21.5" fill-opacity="0.45" stroke-opacity="0.45"/><circle cx="1138.6" cy="917" r="20.1" fill-opacity="0.45" stroke-opacity="0.45"/><circle cx="889.7" cy="917" r="18.8" fill-opacity="0.97" stroke-opacity="0.28"/><circle cx="908.5" cy="1047.2" r="18.8" fill-opacity="0.45" stroke-opacity="0.45"/><circle cx="950.1" cy="917.8" r="18.3" fill-opacity="0.70" stroke-opacity="0.28"/><circle cx="940.7" cy="1552" r="18.3" fill-opacity="0.45" stroke-opacity="0.45"/><circle cx="1138.6" cy="917.8" r="16.6" fill-opacity="0.70" stroke-opacity="0.28"/><circle cx="940.7" cy="1552" r="15.6" fill-opacity="0.45" stroke-opacity="0.45"/><circle cx="926.2" cy="1075.1" r="14.8" fill-opacity="0.45" stroke-opacity="0.45"/><circle cx="916" cy="1285.4" r="14" fill-opacity="0.45" stroke-opacity="0.45"/><circle cx="894.8" cy="1125.9" r="12.9" fill-opacity="0.45" stroke-opacity="0.45"/><circle cx="940.7" cy="1553.3" r="12.1" fill-opacity="0.97" stroke-opacity="0.28"/><circle cx="1076.8" cy="1392.2" r="10.5" fill-opacity="0.45" stroke-opacity="0.45"/><circle cx="919.8" cy="1552.2" r="10.2" fill-opacity="0.45" stroke-opacity="0.45"/><circle cx="1076.8" cy="1342" r="8.6" fill-opacity="0.45" stroke-opacity="0.45"/><circle cx="1186.9" cy="1344.4" r="8.6" fill-opacity="0.45" stroke-opacity="0.45"/><circle cx="1076.8" cy="1554.1" r="8.6" fill-opacity="0.91" stroke-opacity="0.28"/><circle cx="911.4" cy="1132.3" r="8.3" fill-opacity="0.45" stroke-opacity="0.45"/><circle cx="930.8" cy="1341.2" r="8.3" fill-opacity="0.45" stroke-opacity="0.45"/><circle cx="981.8" cy="917" r="5.9" fill-opacity="0.45" stroke-opacity="0.45"/><circle cx="1045.7" cy="917" r="5.9" fill-opacity="0.45" stroke-opacity="0.45"/><circle cx="1142.4" cy="919.1" r="5.9" fill-opacity="0.83" stroke-opacity="0.28"/><circle cx="1169.7" cy="915.1" r="5.9" fill-opacity="0.45" stroke-opacity="0.45"/><circle cx="907.7" cy="1551.4" r="5.4" fill-opacity="0.45" stroke-opacity="0.45"/><circle class="d" cx="958.1" cy="1552.8" r="3.2" fill-opacity="0.91"/><circle class="d" cx="968.4" cy="1553.3" r="2.1" fill-opacity="1.00"/><circle class="k" cx="1385.1" cy="1552.2" r="1.5" fill-opacity="0.90"/><circle class="k" cx="1177" cy="916.2" r="1.5" fill-opacity="0.75"/></g>
<path d="M887 1171 L888.2 1175.4 L889.3 1179.8 L890.5 1184.3 L891.6 1188.7 L892.7 1193.1 L893.7 1197.5 L894.8 1201.9 L895.8 1206.3 L896.9 1210.7 L897.9 1215.1 L898.9 1219.5 L899.9 1223.9 L900.9 1228.3 L901.9 1232.7 L903 1237.1 L904 1241.5 L905 1245.9 L906 1250.3 L907 1254.7 L908 1259.1 L909 1263.5 L910 1267.9 L911.1 1272.3 L912.1 1276.7 L913.2 1281.2 L914.3 1285.6 L915.4 1290 L916.5 1294.4 L917.6 1298.8 L918.8 1303.2 L919.9 1307.7 L921.1 1312.1 L922.4 1316.5 L923.6 1321 L924.9 1325.4 L926.2 1329.8 L927.5 1334.3 L928.9 1338.7 L930.3 1343.2 L931.8 1347.6 L933.3 1352 L934.8 1356.4 L936.3 1360.8 L937.9 1365.1 L939.6 1369.5 L941.3 1373.8 L943 1378.1 L944.8 1382.3 L946.7 1386.6 L948.5 1390.8 L950.5 1394.9 L952.5 1399.1 L954.5 1403.1 L956.7 1407.2 L958.8 1411.2 L961.1 1415.1 L963.4 1419 L965.7 1422.9 L968.1 1426.7 L970.6 1430.4 L973.2 1434.1 L975.8 1437.7 L978.5 1441.2 L981.3 1444.7 L984.1 1448.1 L987 1451.5 L990 1454.7 L993.1 1457.9 L996.2 1461.1 L999.4 1464.1 L1002.7 1467.1 L1006 1470.1 L1009.4 1472.9 L1012.8 1475.7 L1016.4 1478.5 L1019.9 1481.2 L1023.5 1483.8 L1027.2 1486.3 L1030.9 1488.8 L1034.7 1491.3 L1038.5 1493.6 L1042.3 1495.9 L1046.2 1498.2 L1050.2 1500.4 L1054.2 1502.5 L1058.2 1504.6 L1062.3 1506.6 L1066.4 1508.6 L1070.5 1510.5 L1074.6 1512.4 L1078.8 1514.2 L1083.1 1516 L1087.3 1517.7 L1091.6 1519.4 L1095.9 1521 L1100.3 1522.5 L1104.6 1524 L1109 1525.5 L1113.4 1526.9 L1117.8 1528.3 L1122.2 1529.6 L1126.7 1530.9 L1131.2 1532.2 L1135.6 1533.4 L1140.1 1534.5 L1144.6 1535.6 L1149.1 1536.7 L1153.7 1537.7 L1158.2 1538.7 L1162.7 1539.7 L1167.3 1540.6 L1171.8 1541.5 L1176.3 1542.3 L1180.9 1543.1 L1185.4 1543.9 L1189.9 1544.6 L1194.5 1545.3 L1199 1546 L1203.5 1546.6 L1208.1 1547.2 L1212.6 1547.8 L1217.1 1548.3 L1221.7 1548.8 L1226.2 1549.3 L1230.7 1549.8 L1235.3 1550.2 L1239.8 1550.6 L1244.3 1551 L1248.9 1551.3 L1253.4 1551.7 L1257.9 1552 L1262.5 1552.2 L1267 1552.5 L1271.5 1552.7 L1276.1 1552.9 L1280.6 1553.1 L1285.1 1553.3 L1289.7 1553.4 L1294.2 1553.5 L1298.7 1553.5 L1303.3 1553.5 L1307.8 1553.5 L1312.3 1553.5 L1316.9 1553.5 L1321.4 1553.5 L1326 1553.5 L1330.5 1553.5 L1335 1553.5 L1339.6 1553.5 L1344.1 1553.5 L1348.7 1553.5 L1353.2 1553.5 L1357.8 1553.5 L1362.3 1553.5 L1366.9 1553.5 L1371.4 1553.5 L1376 1553.5 L1380.5 1553.5 L1385.1 1553.5 L1385.1 1556.2 L1381.2 1556.2 L1377.3 1556.1 L1373.5 1556.1 L1369.6 1556 L1365.7 1556 L1361.8 1556 L1357.9 1555.9 L1354 1555.9 L1350.1 1555.9 L1346.3 1555.9 L1342.4 1555.9 L1338.5 1555.9 L1334.6 1555.8 L1330.7 1555.8 L1326.8 1555.8 L1322.9 1555.8 L1319 1555.8 L1315.1 1555.8 L1311.2 1555.8 L1307.3 1555.8 L1303.4 1555.8 L1299.4 1555.8 L1295.5 1555.8 L1291.6 1555.8 L1287.7 1555.8 L1283.8 1555.8 L1279.9 1555.8 L1276 1555.8 L1272.1 1555.8 L1268.1 1555.8 L1264.2 1555.8 L1260.3 1555.8 L1256.4 1555.8 L1252.5 1555.8 L1248.6 1555.8 L1244.6 1555.8 L1240.7 1555.8 L1236.8 1555.8 L1232.9 1555.8 L1229 1555.8 L1225 1555.8 L1221.1 1555.8 L1217.2 1555.8 L1213.3 1555.8 L1209.3 1555.8 L1205.4 1555.7 L1201.5 1555.7 L1197.5 1555.7 L1193.6 1555.7 L1189.7 1555.6 L1185.8 1555.6 L1181.8 1555.6 L1177.9 1555.5 L1174 1555.5 L1170.1 1555.4 L1166.1 1555.4 L1162.2 1555.3 L1158.3 1555.3 L1154.3 1555.2 L1150.4 1555.1 L1146.5 1555 L1142.5 1555 L1138.6 1554.9 L1134.7 1554.8 L1130.8 1554.7 L1126.8 1554.6 L1122.9 1554.5 L1119 1554.4 L1115 1554.3 L1111.1 1554.2 L1107.2 1554 L1103.3 1553.9 L1099.3 1553.8 L1095.4 1553.6 L1091.5 1553.5 L1087.6 1553.3 L1083.7 1553.1 L1079.8 1552.8 L1075.9 1552.5 L1072 1552.2 L1068.1 1551.8 L1064.3 1551.3 L1060.5 1550.7 L1056.7 1550.1 L1052.9 1549.4 L1049.2 1548.6 L1045.5 1547.6 L1041.8 1546.6 L1038.1 1545.5 L1034.5 1544.2 L1031 1542.8 L1027.4 1541.4 L1023.9 1539.8 L1020.5 1538.1 L1017.1 1536.3 L1013.8 1534.5 L1010.5 1532.5 L1007.3 1530.4 L1004.1 1528.3 L1001 1526 L997.9 1523.7 L995 1521.2 L992 1518.7 L989.2 1516.1 L986.4 1513.4 L983.7 1510.7 L981.1 1507.8 L978.5 1504.9 L976.1 1501.9 L973.7 1498.8 L971.3 1495.7 L969.1 1492.5 L966.9 1489.2 L964.7 1485.9 L962.7 1482.5 L960.6 1479.1 L958.7 1475.7 L956.7 1472.2 L954.8 1468.7 L953 1465.1 L951.2 1461.5 L949.4 1457.9 L947.6 1454.3 L945.9 1450.7 L944.2 1447.1 L942.5 1443.4 L940.9 1439.8 L939.2 1436.2 L937.6 1432.6 L935.9 1429 L934.3 1425.4 L932.7 1421.8 L931.1 1418.3 L929.4 1414.7 L927.8 1411.2 L926.2 1407.7 L924.5 1404.2 L922.9 1400.7 L921.3 1397.3 L919.7 1393.8 L918 1390.3 L916.4 1386.9 L914.7 1383.4 L913.1 1380 L911.4 1376.5 L909.7 1373.1 L908 1369.6 L906.4 1366.1 L904.7 1362.7 L903 1359.2 L901.2 1355.7 L899.5 1352.2 L897.8 1348.7 L896 1345.2 L894.2 1341.7 L892.4 1338.1 L890.6 1334.6 L888.8 1331 L887 1327.4Z" fill="#104E8B" fill-opacity="0.36"/>
<path d="M887 1250.6 L888.4 1254.6 L889.8 1258.6 L891.2 1262.6 L892.5 1266.6 L893.9 1270.6 L895.2 1274.6 L896.5 1278.7 L897.8 1282.7 L899.1 1286.7 L900.4 1290.7 L901.7 1294.7 L903 1298.8 L904.3 1302.8 L905.6 1306.8 L906.9 1310.8 L908.2 1314.9 L909.5 1318.9 L910.8 1323 L912.1 1327 L913.3 1331 L914.6 1335.1 L916 1339.1 L917.3 1343.2 L918.6 1347.2 L919.9 1351.3 L921.2 1355.3 L922.6 1359.4 L924 1363.4 L925.3 1367.5 L926.7 1371.5 L928.1 1375.6 L929.5 1379.7 L931 1383.7 L932.4 1387.8 L933.9 1391.8 L935.4 1395.8 L937 1399.8 L938.6 1403.8 L940.2 1407.8 L941.8 1411.8 L943.5 1415.7 L945.2 1419.7 L947 1423.6 L948.7 1427.5 L950.6 1431.3 L952.5 1435.1 L954.4 1438.9 L956.4 1442.7 L958.5 1446.4 L960.6 1450.1 L962.7 1453.7 L964.9 1457.3 L967.2 1460.9 L969.6 1464.4 L972 1467.9 L974.4 1471.3 L977 1474.7 L979.6 1478 L982.3 1481.3 L985.1 1484.5 L987.9 1487.6 L990.8 1490.7 L993.8 1493.7 L996.8 1496.7 L999.9 1499.6 L1003 1502.4 L1006.2 1505.2 L1009.5 1507.9 L1012.8 1510.5 L1016.1 1513.1 L1019.5 1515.6 L1023 1518 L1026.5 1520.3 L1030.1 1522.6 L1033.7 1524.8 L1037.3 1526.8 L1041 1528.9 L1044.8 1530.8 L1048.5 1532.6 L1052.3 1534.4 L1056.2 1536 L1060.1 1537.6 L1064 1539.1 L1067.9 1540.5 L1071.9 1541.9 L1075.9 1543.2 L1079.9 1544.4 L1083.9 1545.5 L1088 1546.5 L1092.1 1547.5 L1096.2 1548.4 L1100.3 1549.3 L1104.5 1550.1 L1108.6 1550.8 L1112.8 1551.5 L1117 1552.1 L1121.1 1552.6 L1125.3 1553.1 L1129.5 1553.5 L1133.8 1553.9 L1138 1554.3 L1142.2 1554.6 L1146.5 1554.8 L1150.7 1555 L1155 1555 L1159.2 1555 L1163.5 1555 L1167.8 1555 L1172 1555 L1176.3 1555 L1180.6 1555 L1184.9 1555 L1189.2 1555 L1193.5 1555 L1197.8 1555 L1202.1 1555 L1206.4 1555 L1210.7 1555 L1215.1 1555 L1219.4 1555 L1223.7 1555 L1228 1555 L1232.3 1555 L1236.7 1555 L1241 1555 L1245.3 1555 L1249.6 1555 L1253.9 1555 L1258.2 1555 L1262.6 1555 L1266.9 1555 L1271.2 1555 L1275.5 1555 L1279.8 1555 L1284.1 1555 L1288.4 1555 L1292.7 1555 L1296.9 1555 L1301.2 1555 L1305.5 1555 L1309.8 1555 L1314 1555 L1318.3 1555 L1322.5 1555 L1326.8 1555 L1331 1555 L1335.2 1555 L1339.4 1555 L1343.6 1555 L1347.8 1555 L1352 1555 L1356.2 1555 L1360.4 1555 L1364.5 1555 L1368.6 1555 L1372.8 1555 L1376.9 1555 L1381 1555 L1385.1 1555" fill="none" stroke="#104E8B" stroke-width="6.0" stroke-linejoin="round"/>
<rect class="fr" x="862.7" y="884.1" width="547.1" height="702"/>
<path class="tk" d="M853.3 1555.3H862.7M853.3 1491.3H862.7M853.3 1427.3H862.7M853.3 1363.3H862.7M853.3 1299.3H862.7M853.3 1235.2H862.7M853.3 1171.2H862.7M853.3 1107.2H862.7M853.3 1043.2H862.7M853.3 979.2H862.7M853.3 915.2H862.7M878.4 1586.1V1595.5M1012 1586.1V1595.5M1145.7 1586.1V1595.5M1279.3 1586.1V1595.5"/>
<g class="t" text-anchor="end"><text transform="translate(846.2 1568.7) scale(1 1.043)">0.0</text><text transform="translate(846.2 1504.7) scale(1 1.043)">0.1</text><text transform="translate(846.2 1440.7) scale(1 1.043)">0.2</text><text transform="translate(846.2 1376.7) scale(1 1.043)">0.3</text><text transform="translate(846.2 1312.7) scale(1 1.043)">0.4</text><text transform="translate(846.2 1248.7) scale(1 1.043)">0.5</text><text transform="translate(846.2 1184.6) scale(1 1.043)">0.6</text><text transform="translate(846.2 1120.6) scale(1 1.043)">0.7</text><text transform="translate(846.2 1056.6) scale(1 1.043)">0.8</text><text transform="translate(846.2 992.6) scale(1 1.043)">0.9</text><text transform="translate(846.2 928.6) scale(1 1.043)">1.0</text></g>
<g class="t" text-anchor="middle"><text transform="translate(878.4 1629.2) scale(1 1.043)">0e+00</text><text transform="translate(1012 1629.2) scale(1 1.043)">2e-04</text><text transform="translate(1145.7 1629.2) scale(1 1.043)">4e-04</text><text transform="translate(1279.3 1629.2) scale(1 1.043)">6e-04</text><text x="1136.2" y="1671.5">B5 Concentration</text></g>
<text class="l" transform="translate(730.8 906.6) scale(1 1.043)">E</text>
</g>
<g id="panelF">
<g class="b" clip-path="url(#cF)"><circle cx="1615.6" cy="915.6" r="41.6" fill-opacity="0.45" stroke-opacity="0.45"/><circle cx="1735.7" cy="927.7" r="26.9" fill-opacity="0.45" stroke-opacity="0.45"/><circle cx="1875.3" cy="941.2" r="26.9" fill-opacity="0.45" stroke-opacity="0.45"/><circle cx="1615.6" cy="915.6" r="25.5" fill-opacity="0.99" stroke-opacity="0.28"/><circle cx="1615.6" cy="966.7" r="24.7" fill-opacity="0.45" stroke-opacity="0.45"/><circle cx="1676.1" cy="917.8" r="21.5" fill-opacity="0.45" stroke-opacity="0.45"/><circle cx="1627.7" cy="1052.1" r="21.5" fill-opacity="0.45" stroke-opacity="0.45"/><circle cx="1651.9" cy="1041.3" r="19.3" fill-opacity="0.45" stroke-opacity="0.45"/><circle cx="1750.4" cy="917.8" r="18.3" fill-opacity="0.45" stroke-opacity="0.45"/><circle cx="1714.2" cy="917.8" r="16.6" fill-opacity="0.45" stroke-opacity="0.45"/><circle cx="1847.6" cy="1076.8" r="14.8" fill-opacity="0.45" stroke-opacity="0.45"/><circle cx="1828.6" cy="1282.7" r="14" fill-opacity="0.45" stroke-opacity="0.45"/><circle cx="1618.3" cy="1131.3" r="13.2" fill-opacity="0.45" stroke-opacity="0.45"/><circle cx="2041.8" cy="1550.4" r="12.9" fill-opacity="0.70" stroke-opacity="0.28"/><circle cx="1714.2" cy="1393.3" r="10.5" fill-opacity="0.45" stroke-opacity="0.45"/><circle cx="1651.9" cy="1341.5" r="8.6" fill-opacity="0.45" stroke-opacity="0.45"/><circle cx="1714.5" cy="1342" r="8.6" fill-opacity="0.45" stroke-opacity="0.45"/><circle cx="1745.9" cy="1343.6" r="8.6" fill-opacity="0.45" stroke-opacity="0.45"/><circle cx="1690.3" cy="1553.1" r="8.6" fill-opacity="0.70" stroke-opacity="0.28"/><circle cx="1714.2" cy="1553.6" r="8.6" fill-opacity="0.91" stroke-opacity="0.28"/><circle cx="1671.5" cy="1129.7" r="8.3" fill-opacity="0.45" stroke-opacity="0.45"/><circle cx="2041.8" cy="1553.6" r="8.1" fill-opacity="0.91" stroke-opacity="0.28"/><circle cx="1645.2" cy="917.8" r="5.9" fill-opacity="0.45" stroke-opacity="0.45"/><circle cx="1750.4" cy="917.8" r="5.9" fill-opacity="0.70" stroke-opacity="0.28"/><circle class="d" cx="1690.3" cy="1553.1" r="2.7" fill-opacity="1.00"/><circle class="d" cx="1627.5" cy="1551.4" r="2.1" fill-opacity="1.00"/><circle class="d" cx="1627.5" cy="1554.1" r="2.1" fill-opacity="1.00"/><circle class="d" cx="1659.4" cy="1552.2" r="2.1" fill-opacity="0.91"/><circle class="d" cx="1812.5" cy="1553.1" r="2.1" fill-opacity="1.00"/><circle class="k" cx="1750.4" cy="1552.5" r="2.1" fill-opacity="0.90"/><circle class="k" cx="1963.4" cy="915.6" r="1.8" fill-opacity="0.75"/><circle class="k" cx="1640.9" cy="1552.5" r="1.8" fill-opacity="0.90"/><circle class="k" cx="1660" cy="917.8" r="1.5" fill-opacity="0.90"/><circle class="k" cx="1690.3" cy="915.6" r="1.5" fill-opacity="0.75"/><circle class="k" cx="1846.6" cy="917.5" r="1.5" fill-opacity="0.75"/><circle class="k" cx="1866.2" cy="916.2" r="1.5" fill-opacity="0.90"/><circle class="k" cx="1651.9" cy="1553.1" r="1.5" fill-opacity="0.75"/><circle class="k" cx="1655.4" cy="1553.1" r="1.5" fill-opacity="0.75"/><circle class="k" cx="1835" cy="1552.5" r="1.5" fill-opacity="0.75"/><circle class="k" cx="1866.2" cy="1551.7" r="1.5" fill-opacity="0.75"/><circle class="k" cx="1871.3" cy="1552" r="1.5" fill-opacity="0.75"/><circle class="k" cx="1990.2" cy="1551.4" r="1.5" fill-opacity="0.75"/><circle class="k" cx="2114.3" cy="1553.6" r="1.5" fill-opacity="0.90"/><circle class="k" cx="2077.5" cy="1551.7" r="1.5" fill-opacity="0.75"/></g>
<path d="M1615.8 1273.6 L1622.1 1283.6 L1628.4 1293.2 L1634.7 1302.4 L1641 1311.2 L1647.3 1319.8 L1653.6 1327.9 L1659.9 1335.8 L1666.2 1343.3 L1672.5 1350.5 L1678.8 1357.4 L1685.1 1364 L1691.4 1370.4 L1697.7 1376.5 L1704.1 1382.3 L1710.4 1387.9 L1716.7 1393.3 L1723 1398.5 L1729.3 1403.5 L1735.6 1408.3 L1741.9 1413 L1748.2 1417.4 L1754.5 1421.7 L1760.8 1425.9 L1767.1 1429.9 L1773.4 1433.8 L1779.7 1437.6 L1786 1441.3 L1792.3 1444.8 L1798.6 1448.2 L1804.9 1451.6 L1811.2 1454.8 L1817.5 1458 L1823.8 1461 L1830.1 1464 L1836.4 1466.9 L1842.7 1469.7 L1849 1472.5 L1855.3 1475.1 L1861.6 1477.7 L1868 1480.3 L1874.3 1482.8 L1880.6 1485.2 L1886.9 1487.5 L1893.2 1489.8 L1899.5 1492 L1905.8 1494.1 L1912.1 1496.2 L1918.4 1498.2 L1924.7 1500.2 L1931 1502.1 L1937.3 1504 L1943.6 1505.8 L1949.9 1507.5 L1956.2 1509.2 L1962.5 1510.8 L1968.8 1512.4 L1975.1 1513.9 L1981.4 1515.3 L1987.7 1516.7 L1994 1518 L2000.3 1519.3 L2006.6 1520.6 L2012.9 1521.7 L2019.2 1522.9 L2025.5 1523.9 L2031.9 1525 L2038.2 1525.9 L2044.5 1526.9 L2050.8 1527.7 L2057.1 1528.5 L2063.4 1529.3 L2069.7 1530 L2076 1530.7 L2082.3 1531.3 L2088.6 1531.9 L2094.9 1532.5 L2101.2 1533 L2107.5 1533.4 L2113.8 1533.8 L2113.8 1554.2 L2107.5 1554 L2101.2 1553.8 L2094.9 1553.5 L2088.6 1553.2 L2082.3 1552.9 L2076 1552.6 L2069.7 1552.3 L2063.4 1552 L2057.1 1551.6 L2050.8 1551.3 L2044.5 1550.9 L2038.2 1550.6 L2031.9 1550.3 L2025.5 1549.9 L2019.2 1549.6 L2012.9 1549.2 L2006.6 1548.9 L2000.3 1548.5 L1994 1548.2 L1987.7 1547.8 L1981.4 1547.5 L1975.1 1547.1 L1968.8 1546.7 L1962.5 1546.3 L1956.2 1545.8 L1949.9 1545.4 L1943.6 1544.9 L1937.3 1544.4 L1931 1543.8 L1924.7 1543.2 L1918.4 1542.6 L1912.1 1541.9 L1905.8 1541.2 L1899.5 1540.4 L1893.2 1539.5 L1886.9 1538.6 L1880.6 1537.5 L1874.3 1536.4 L1868 1535.2 L1861.6 1533.9 L1855.3 1532.4 L1849 1530.9 L1842.7 1529.2 L1836.4 1527.3 L1830.1 1525.3 L1823.8 1523.2 L1817.5 1520.8 L1811.2 1518.3 L1804.9 1515.6 L1798.6 1512.7 L1792.3 1509.6 L1786 1506.3 L1779.7 1502.7 L1773.4 1499 L1767.1 1495 L1760.8 1490.8 L1754.5 1486.3 L1748.2 1481.7 L1741.9 1476.8 L1735.6 1471.8 L1729.3 1466.6 L1723 1461.2 L1716.7 1455.7 L1710.4 1450 L1704.1 1444.3 L1697.7 1438.5 L1691.4 1432.7 L1685.1 1426.8 L1678.8 1421 L1672.5 1415.2 L1666.2 1409.5 L1659.9 1404 L1653.6 1398.5 L1647.3 1393.1 L1641 1388 L1634.7 1383 L1628.4 1378.2 L1622.1 1373.5 L1615.8 1369.1Z" fill="#104E8B" fill-opacity="0.36"/>
<path d="M1615.8 1325 L1622.1 1331.3 L1628.4 1337.7 L1634.7 1344 L1641 1350.4 L1647.3 1356.8 L1653.6 1363.2 L1659.9 1369.6 L1666.2 1375.9 L1672.5 1382.1 L1678.8 1388.3 L1685.1 1394.3 L1691.4 1400.3 L1697.7 1406.2 L1704.1 1412 L1710.4 1417.6 L1716.7 1423.1 L1723 1428.5 L1729.3 1433.7 L1735.6 1438.8 L1741.9 1443.7 L1748.2 1448.5 L1754.5 1453.2 L1760.8 1457.6 L1767.1 1461.9 L1773.4 1466.1 L1779.7 1470.1 L1786 1474 L1792.3 1477.7 L1798.6 1481.2 L1804.9 1484.7 L1811.2 1487.9 L1817.5 1491.1 L1823.8 1494.1 L1830.1 1497 L1836.4 1499.7 L1842.7 1502.3 L1849 1504.9 L1855.3 1507.3 L1861.6 1509.6 L1868 1511.8 L1874.3 1513.8 L1880.6 1515.8 L1886.9 1517.7 L1893.2 1519.6 L1899.5 1521.3 L1905.8 1523 L1912.1 1524.5 L1918.4 1526 L1924.7 1527.5 L1931 1528.9 L1937.3 1530.2 L1943.6 1531.4 L1949.9 1532.6 L1956.2 1533.7 L1962.5 1534.8 L1968.8 1535.9 L1975.1 1536.9 L1981.4 1537.8 L1987.7 1538.7 L1994 1539.6 L2000.3 1540.4 L2006.6 1541.2 L2012.9 1541.9 L2019.2 1542.7 L2025.5 1543.3 L2031.9 1544 L2038.2 1544.6 L2044.5 1545.2 L2050.8 1545.8 L2057.1 1546.4 L2063.4 1546.9 L2069.7 1547.4 L2076 1547.9 L2082.3 1548.3 L2088.6 1548.8 L2094.9 1549.2 L2101.2 1549.6 L2107.5 1549.9 L2113.8 1550.3" fill="none" stroke="#104E8B" stroke-width="6.0" stroke-linejoin="round"/>
<rect class="fr" x="1591.3" y="884.1" width="547.1" height="702"/>
<path class="tk" d="M1581.9 1555.3H1591.3M1581.9 1491.3H1591.3M1581.9 1427.3H1591.3M1581.9 1363.3H1591.3M1581.9 1299.3H1591.3M1581.9 1235.2H1591.3M1581.9 1171.2H1591.3M1581.9 1107.2H1591.3M1581.9 1043.2H1591.3M1581.9 979.2H1591.3M1581.9 915.2H1591.3M1615.6 1586.1V1595.5M1725.4 1586.1V1595.5M1835.2 1586.1V1595.5M1945 1586.1V1595.5M2054.8 1586.1V1595.5"/>
<g class="t" text-anchor="end"><text transform="translate(1574.8 1568.7) scale(1 1.043)">0.0</text><text transform="translate(1574.8 1504.7) scale(1 1.043)">0.1</text><text transform="translate(1574.8 1440.7) scale(1 1.043)">0.2</text><text transform="translate(1574.8 1376.7) scale(1 1.043)">0.3</text><text transform="translate(1574.8 1312.7) scale(1 1.043)">0.4</text><text transform="translate(1574.8 1248.7) scale(1 1.043)">0.5</text><text transform="translate(1574.8 1184.6) scale(1 1.043)">0.6</text><text transform="translate(1574.8 1120.6) scale(1 1.043)">0.7</text><text transform="translate(1574.8 1056.6) scale(1 1.043)">0.8</text><text transform="translate(1574.8 992.6) scale(1 1.043)">0.9</text><text transform="translate(1574.8 928.6) scale(1 1.043)">1.0</text></g>
<g class="t" text-anchor="middle"><text transform="translate(1615.6 1629.2) scale(1 1.043)">0e+00</text><text transform="translate(1725.4 1629.2) scale(1 1.043)">1e-05</text><text transform="translate(1835.2 1629.2) scale(1 1.043)">2e-05</text><text transform="translate(1945 1629.2) scale(1 1.043)">3e-05</text><text transform="translate(2054.8 1629.2) scale(1 1.043)">4e-05</text><text x="1864.8" y="1671.5">B9 Concentration</text></g>
<text class="l" transform="translate(1460 906.6) scale(1 1.043)">F</text>
</g>
</svg>
</body></html>
